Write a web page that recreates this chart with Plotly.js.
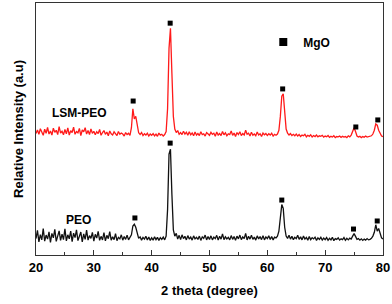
<!DOCTYPE html>
<html>
<head>
<meta charset="utf-8">
<script src="https://cdn.plot.ly/plotly-3.0.1.min.js"></script>
<style>html,body{margin:0;padding:0;background:#fff;}#chart{width:392px;height:304px;}</style>
</head>
<body>
<div id="chart"></div>
<script>
// 2 theta grid: starts at 20 degrees, step 0.25 degrees
var thetaStart = 20;
var thetaStep = 0.25;

// LSM-PEO intensity (a.u., offset upward)
var lsmPeo = [
  48.2,49.6,47.9,50.1,48.8,47.5,49.9,48.3,50.6,48.0,49.2,47.6,50.3,48.7,49.5,47.8,50.9,48.4,49.1,47.7,
  49.8,48.1,50.4,47.6,49.3,48.6,50.7,47.9,49.0,48.5,50.2,47.4,49.6,48.9,50.5,48.0,49.4,47.8,50.0,48.3,
  49.1,47.7,48.9,48.2,49.8,47.5,48.6,49.4,47.9,48.8,47.3,49.2,48.1,47.6,48.9,48.3,47.4,49.0,47.9,48.4,
  48.0,47.2,48.6,47.8,48.3,47.5,50.5,58.0,54.0,55.0,51.0,48.5,47.8,48.6,47.4,48.1,47.6,48.3,47.2,48.0,
  47.5,48.2,47.3,48.0,47.1,48.4,47.6,47.9,47.2,47.8,49.0,58.0,82.0,90.0,72.0,55.0,50.0,48.6,49.4,47.9,
  48.6,47.8,49.1,48.0,48.7,47.5,48.9,47.7,48.4,47.3,48.8,47.6,48.2,47.4,48.9,47.8,48.1,47.2,48.6,47.9,
  47.5,48.7,47.9,48.3,47.1,48.8,47.6,48.2,47.4,49.0,47.7,48.5,47.3,48.1,47.8,49.2,47.5,48.4,47.0,48.6,
  47.8,48.9,47.4,48.2,47.6,49.5,47.9,48.3,47.2,48.7,47.5,48.0,47.3,48.8,47.6,48.1,47.0,48.4,47.7,48.2,
  47.4,48.1,47.6,48.3,47.2,47.9,47.5,48.0,49.5,55.0,63.0,64.0,56.0,50.0,48.3,47.6,48.2,47.4,47.9,47.3,
  48.0,47.2,47.8,47.0,47.6,47.3,47.9,46.9,47.5,47.1,47.7,46.8,47.4,47.0,47.6,46.9,47.3,47.1,47.5,46.8,
  47.2,46.9,47.4,46.7,47.1,46.8,47.3,46.6,47.0,46.9,47.2,46.7,47.1,46.8,47.0,46.6,47.3,46.9,47.6,48.8,
  50.5,49.0,47.2,46.8,47.1,46.6,47.0,46.7,47.2,46.8,47.0,46.9,47.3,48.0,49.5,52.0,51.5,49.5,48.0,47.2,
  47.0
];

// PEO intensity (a.u.)
var peo = [
  6.5,9.8,5.2,8.1,6.0,10.5,5.5,7.9,6.3,9.2,5.0,8.6,6.8,10.2,5.4,7.5,9.6,5.8,8.3,6.1,
  10.4,5.6,8.0,6.4,9.5,5.3,8.7,6.9,10.0,5.7,7.6,9.1,5.2,8.4,6.2,9.9,5.9,7.7,6.6,9.0,
  5.5,8.2,6.7,9.4,5.8,7.4,6.0,8.9,5.6,7.8,6.5,9.3,5.9,7.2,6.1,8.5,5.7,7.0,6.4,8.0,
  5.9,7.3,6.2,7.9,6.0,7.1,8.0,11.5,12.2,11.0,8.0,6.6,7.2,5.9,7.0,6.3,7.4,6.0,7.1,5.8,
  6.8,5.9,7.2,6.1,7.0,5.8,6.9,6.2,7.1,6.0,7.5,18.0,40.0,42.0,24.0,10.0,7.5,8.6,6.3,7.8,
  6.1,8.0,6.5,7.4,6.0,7.7,6.3,7.1,5.9,7.6,6.4,7.0,6.2,7.5,5.8,7.2,6.6,7.9,6.0,7.3,
  6.2,7.6,6.0,7.1,6.5,7.8,5.9,7.4,6.3,8.4,6.1,7.2,6.4,7.0,6.0,7.7,6.2,7.3,5.8,7.5,
  6.4,7.9,6.1,7.2,6.5,8.6,6.0,7.4,6.3,7.8,6.2,7.1,5.9,7.6,6.4,7.3,6.1,7.7,6.0,7.2,
  6.5,7.6,6.2,7.3,6.0,7.1,6.8,7.5,9.5,15.0,20.0,18.5,11.0,7.5,6.6,7.8,6.3,7.4,6.1,7.0,
  6.5,7.8,6.2,7.2,6.0,7.5,6.3,7.0,5.9,7.3,6.1,6.9,6.4,7.1,5.8,6.8,6.2,7.0,5.9,6.7,
  6.1,6.9,5.8,6.6,6.0,7.0,5.7,6.5,6.2,6.8,5.9,6.4,6.1,6.9,5.8,6.6,6.0,6.7,6.3,7.5,
  8.5,7.4,6.2,6.5,5.9,6.4,5.8,6.3,5.9,6.5,6.0,6.2,6.6,7.5,9.0,12.0,9.5,10.5,8.0,6.8,
  6.3
];

// MgO reflection markers
var mgoLsmX = [36.8, 43.2, 62.65, 75.3, 79.1];
var mgoLsmY = [61.1, 92.0, 65.9, 50.8, 53.6];
var mgoPeoX = [37.1, 43.2, 62.5, 74.9, 79.0];
var mgoPeoY = [14.7, 44.4, 21.8, 10.3, 13.5];

var xTickVals = [20, 30, 40, 50, 60, 70, 80];
var xTickText = ['20', '30', '40', '50', '60', '70', '80'];

var FONT = 'Liberation Sans, Arial, sans-serif';

var traces = [
  {x0: thetaStart, dx: thetaStep, y: lsmPeo, type: 'scatter', mode: 'lines',
   line: {color: '#ff1a1a', width: 1.3}, showlegend: false, hoverinfo: 'skip'},
  {x0: thetaStart, dx: thetaStep, y: peo, type: 'scatter', mode: 'lines',
   line: {color: '#111111', width: 1.3}, showlegend: false, hoverinfo: 'skip'},
  {x: mgoLsmX, y: mgoLsmY, type: 'scatter', mode: 'markers',
   marker: {symbol: 'square', size: 5, color: '#000'}, showlegend: false},
  {x: mgoPeoX, y: mgoPeoY, type: 'scatter', mode: 'markers',
   marker: {symbol: 'square', size: 5, color: '#000'}, showlegend: false},
  {x: [null], y: [null], type: 'scatter', mode: 'markers', name: 'MgO',
   marker: {symbol: 'square', size: 8, color: '#000'}, showlegend: true}
];

var layout = {
  width: 392, height: 304,
  margin: {l: 36, r: 9, t: 3, b: 49},
  paper_bgcolor: '#fff', plot_bgcolor: '#fff',
  font: {family: FONT, size: 13, color: '#000'},
  xaxis: {
    range: [20, 80], tickvals: xTickVals, ticktext: xTickText,
    ticks: 'inside', ticklen: 5, tickwidth: 1, tickcolor: '#333',
    minor: {dtick: 5, ticks: 'inside', ticklen: 3, tickcolor: '#333', showgrid: false},
    showline: true, linecolor: '#333', linewidth: 1, mirror: true,
    showgrid: false, zeroline: false,
    tickfont: {family: FONT, size: 13, color: '#000', weight: 'bold'},
    title: {text: '<b>2 theta (degree)</b>', font: {family: FONT, size: 13, color: '#000'}, standoff: 12}
  },
  yaxis: {
    range: [0, 100], showticklabels: false, ticks: '',
    showline: true, linecolor: '#333', linewidth: 1, mirror: true,
    showgrid: false, zeroline: false,
    title: {text: '<b>Relative Intensity (a.u)</b>', font: {family: FONT, size: 13, color: '#000'}, standoff: 8}
  },
  showlegend: true,
  legend: {x: 0.655, y: 0.845, xanchor: 'left', yanchor: 'middle',
    bgcolor: 'rgba(0,0,0,0)', borderwidth: 0,
    font: {family: FONT, size: 12, color: '#000', weight: 'bold'}},
  annotations: [
    {x: 27.6, y: 56.3, xref: 'x', yref: 'y', text: '<b>LSM-PEO</b>', showarrow: false,
     font: {family: FONT, size: 12, color: '#000'}},
    {x: 27.3, y: 13.9, xref: 'x', yref: 'y', text: '<b>PEO</b>', showarrow: false,
     font: {family: FONT, size: 12, color: '#000'}}
  ]
};

Plotly.newPlot('chart', traces, layout, {displayModeBar: false, staticPlot: true});
</script>
</body>
</html>
